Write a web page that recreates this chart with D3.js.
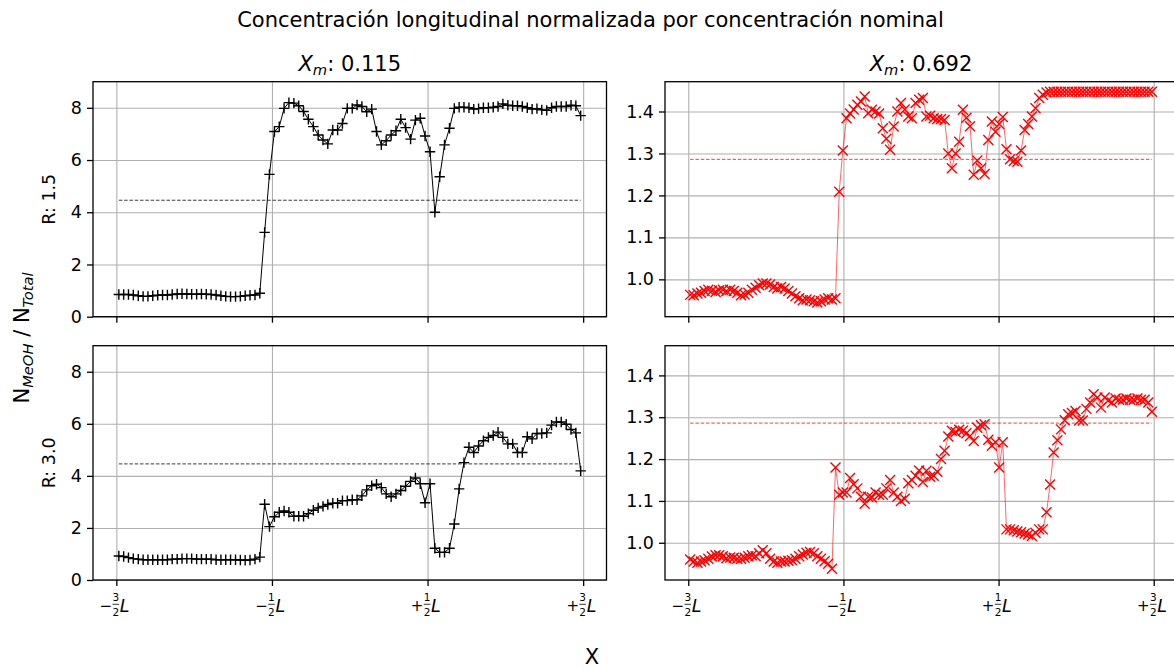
<!DOCTYPE html>
<html>
<head>
<meta charset="utf-8">
<title>Concentración longitudinal normalizada</title>
<script src="https://d3js.org/d3.v7.min.js"></script>
<style>
  body { margin: 0; background: #fff; }
  svg { font-family: "DejaVu Sans", sans-serif; }
  .grid line { stroke: #b0b0b0; stroke-width: 1.1; }
  .grid path { display: none; }
  .axis path { display: none; }
  .axis line { stroke: #000; stroke-width: 1.3; }
  .axis text { font-family: "DejaVu Sans", sans-serif; font-size: 17.5px; fill: #000; }
  .frac text { font-family: "DejaVu Sans", sans-serif; fill: #000; }
</style>
</head>
<body>
<svg width="1174" height="668"></svg>
<script>
// cell centres along X, in units of L
const xLeft = [-1.484, -1.453, -1.422, -1.391, -1.359, -1.328, -1.297, -1.266, -1.234, -1.203,
  -1.172, -1.141, -1.109, -1.078, -1.047, -1.016, -0.984, -0.953, -0.922, -0.891,
  -0.859, -0.828, -0.797, -0.766, -0.734, -0.703, -0.672, -0.641, -0.609, -0.578,
  -0.547, -0.516, -0.484, -0.453, -0.422, -0.391, -0.359, -0.328, -0.297, -0.266,
  -0.234, -0.203, -0.172, -0.141, -0.109, -0.078, -0.047, -0.016, 0.016, 0.047,
  0.078, 0.109, 0.141, 0.172, 0.203, 0.234, 0.266, 0.297, 0.328, 0.359,
  0.391, 0.422, 0.453, 0.484, 0.516, 0.547, 0.578, 0.609, 0.641, 0.672,
  0.703, 0.734, 0.766, 0.797, 0.828, 0.859, 0.891, 0.922, 0.953, 0.984,
  1.016, 1.047, 1.078, 1.109, 1.141, 1.172, 1.203, 1.234, 1.266, 1.297,
  1.328, 1.359, 1.391, 1.422, 1.453, 1.484];

const xRight = [-1.488, -1.465, -1.441, -1.418, -1.395, -1.371, -1.348, -1.324, -1.301, -1.277,
  -1.254, -1.230, -1.207, -1.184, -1.160, -1.137, -1.113, -1.090, -1.066, -1.043,
  -1.020, -0.996, -0.973, -0.949, -0.926, -0.902, -0.879, -0.855, -0.832, -0.809,
  -0.785, -0.762, -0.738, -0.715, -0.691, -0.668, -0.645, -0.621, -0.598, -0.574,
  -0.551, -0.527, -0.504, -0.480, -0.457, -0.434, -0.410, -0.387, -0.363, -0.340,
  -0.316, -0.293, -0.270, -0.246, -0.223, -0.199, -0.176, -0.152, -0.129, -0.105,
  -0.082, -0.059, -0.035, -0.012, 0.012, 0.035, 0.059, 0.082, 0.105, 0.129,
  0.152, 0.176, 0.199, 0.223, 0.246, 0.270, 0.293, 0.316, 0.340, 0.363,
  0.387, 0.410, 0.434, 0.457, 0.480, 0.504, 0.527, 0.551, 0.574, 0.598,
  0.621, 0.645, 0.668, 0.691, 0.715, 0.738, 0.762, 0.785, 0.809, 0.832,
  0.855, 0.879, 0.902, 0.926, 0.949, 0.973, 0.996, 1.020, 1.043, 1.066,
  1.090, 1.113, 1.137, 1.160, 1.184, 1.207, 1.230, 1.254, 1.277, 1.301,
  1.324, 1.348, 1.371, 1.395, 1.418, 1.441, 1.465, 1.488];

// X_m 0.115, R 1.5
const leftR15 = [0.85, 0.85, 0.85, 0.83, 0.8, 0.78, 0.78, 0.8, 0.82, 0.83,
  0.83, 0.85, 0.87, 0.88, 0.87, 0.86, 0.86, 0.87, 0.86, 0.85,
  0.83, 0.8, 0.78, 0.77, 0.77, 0.78, 0.8, 0.82, 0.83, 0.9,
  3.23, 5.45, 7.09, 7.28, 7.98, 8.2, 8.18, 8.08, 7.86, 7.56,
  7.28, 6.96, 6.77, 6.62, 7.15, 7.15, 7.4, 7.98, 7.98, 8.11,
  8.05, 7.85, 7.95, 7.09, 6.58, 6.74, 6.96, 7.12, 7.56, 7.24,
  6.8, 7.53, 7.6, 6.92, 6.32, 4.0, 5.36, 6.58, 7.22, 7.98,
  8.02, 8.02, 8.0, 7.95, 7.97, 8.0, 8.0, 8.02, 8.05, 8.15,
  8.1, 8.08, 8.08, 8.05, 8.0, 7.95, 7.97, 7.92, 7.9, 8.0,
  8.05, 8.05, 8.05, 8.1, 8.08, 7.7];

// X_m 0.115, R 3.0
const leftR30 = [0.92, 0.9, 0.86, 0.82, 0.8, 0.78, 0.78, 0.78, 0.78, 0.78,
  0.78, 0.8, 0.8, 0.82, 0.82, 0.82, 0.8, 0.8, 0.8, 0.8,
  0.78, 0.78, 0.78, 0.78, 0.78, 0.77, 0.76, 0.77, 0.8, 0.88,
  2.91, 2.05, 2.43, 2.6, 2.65, 2.6, 2.45, 2.45, 2.45, 2.55,
  2.68, 2.77, 2.83, 2.9, 2.95, 2.95, 3.05, 3.05, 3.08, 3.08,
  3.23, 3.46, 3.62, 3.68, 3.55, 3.31, 3.2, 3.31, 3.44, 3.6,
  3.79, 3.92, 3.7, 2.97, 3.7, 1.22, 1.06, 1.06, 1.22, 2.15,
  3.5, 4.51, 5.1, 4.9, 5.15, 5.35, 5.48, 5.55, 5.68, 5.48,
  5.23, 5.23, 4.9, 4.9, 5.5, 5.42, 5.63, 5.63, 5.65, 5.95,
  6.07, 6.07, 5.98, 5.78, 5.65, 4.19];

// X_m 0.692, R 1.5
const rightR15 = [0.963, 0.962, 0.966, 0.968, 0.972, 0.975, 0.973, 0.97, 0.974, 0.975,
  0.972, 0.975, 0.972, 0.968, 0.962, 0.964, 0.968, 0.975, 0.98, 0.986,
  0.99, 0.99, 0.988, 0.982, 0.978, 0.982, 0.978, 0.972, 0.966, 0.96,
  0.955, 0.95, 0.952, 0.95, 0.948, 0.945, 0.948, 0.952, 0.955, 0.952,
  0.955, 1.209, 1.307, 1.384, 1.395, 1.405, 1.416, 1.424, 1.436, 1.396,
  1.404, 1.4, 1.395, 1.36, 1.335, 1.309, 1.364, 1.4, 1.42, 1.405,
  1.388, 1.384, 1.42, 1.428, 1.432, 1.388, 1.39, 1.384, 1.382, 1.382,
  1.38, 1.30, 1.265, 1.3, 1.328, 1.404, 1.385, 1.365, 1.249, 1.283,
  1.265, 1.251, 1.332, 1.376, 1.352, 1.37, 1.387, 1.31, 1.286, 1.282,
  1.28, 1.307, 1.356, 1.37, 1.388, 1.408, 1.432, 1.44, 1.445, 1.447,
  1.447, 1.447, 1.447, 1.447, 1.447, 1.447, 1.447, 1.447, 1.447, 1.447,
  1.447, 1.447, 1.447, 1.447, 1.447, 1.447, 1.447, 1.447, 1.447, 1.447,
  1.447, 1.447, 1.447, 1.447, 1.447, 1.447, 1.447, 1.447];

// X_m 0.692, R 3.0
const rightR30 = [0.96, 0.955, 0.952, 0.955, 0.958, 0.962, 0.967, 0.97, 0.97, 0.968,
  0.963, 0.965, 0.964, 0.962, 0.962, 0.964, 0.968, 0.97, 0.968, 0.975,
  0.982, 0.975, 0.962, 0.955, 0.952, 0.955, 0.955, 0.957, 0.958, 0.962,
  0.968, 0.972, 0.976, 0.978, 0.975, 0.968, 0.962, 0.956, 0.95, 0.938,
  1.18, 1.115, 1.12, 1.12, 1.155, 1.14, 1.13, 1.11, 1.093, 1.11,
  1.108, 1.12, 1.115, 1.115, 1.13, 1.15, 1.12, 1.11, 1.1, 1.105,
  1.142, 1.15, 1.16, 1.173, 1.145, 1.172, 1.158, 1.16, 1.17, 1.2,
  1.22, 1.254, 1.268, 1.265, 1.27, 1.268, 1.262, 1.255, 1.243, 1.275,
  1.281, 1.283, 1.246, 1.232, 1.24, 1.18, 1.24, 1.032, 1.032, 1.03,
  1.027, 1.025, 1.022, 1.02, 1.016, 1.024, 1.032, 1.032, 1.073, 1.139,
  1.216, 1.245, 1.271, 1.293, 1.307, 1.31, 1.315, 1.292, 1.292, 1.32,
  1.335, 1.355, 1.347, 1.323, 1.347, 1.34, 1.335, 1.345, 1.342, 1.342,
  1.345, 1.342, 1.342, 1.345, 1.342, 1.342, 1.335, 1.313];

const nominal = [4.46, 1.286];           // dashed reference per column
const mixValues = ["0.115", "0.692"];    // column titles
const rowLabels = ["R: 1.5", "R: 3.0"];
const xTicks = [-1.5, -0.5, 0.5, 1.5];
const xTickLabels = [["−", "3"], ["−", "1"], ["+", "1"], ["+", "3"]];
const yTicksLeft = [0, 2, 4, 6, 8];
const yTicksRight = [1.0, 1.1, 1.2, 1.3, 1.4];

const svg = d3.select("svg");
svg.append("rect").attr("width", 1174).attr("height", 668).attr("fill", "#fff");

const cols = [
  { x0: 93, x1: 606.5, xs: xLeft, yDomain: [0, 9], yTicks: yTicksLeft, fmt: d3.format("d"),
    color: "#000", lineOpacity: 1, marker: "M-5.2,0H5.2M0,-5.2V5.2" },
  { x0: 665, x1: 1177, xs: xRight, yDomain: [0.911, 1.471], yTicks: yTicksRight, fmt: d3.format(".1f"),
    color: "#ff0000", lineOpacity: 0.6, marker: "M-5,-5L5,5M-5,5L5,-5" }
];
const rows = [{ y0: 81.7, y1: 316.7 }, { y0: 345.7, y1: 580 }];
const series = [[leftR15, rightR15], [leftR30, rightR30]];

rows.forEach((row, ri) => {
  cols.forEach((col, ci) => {
    const x = d3.scaleLinear().domain([-1.65, 1.65]).range([col.x0, col.x1]);
    const y = d3.scaleLinear().domain(col.yDomain).range([row.y1, row.y0]);
    const vals = series[ri][ci];
    const g = svg.append("g");

    // grid
    g.append("g").attr("class", "grid")
      .attr("transform", `translate(0,${row.y1})`)
      .call(d3.axisBottom(x).tickValues(xTicks).tickSize(-(row.y1 - row.y0)).tickFormat(""));
    g.append("g").attr("class", "grid")
      .attr("transform", `translate(${col.x0},0)`)
      .call(d3.axisLeft(y).tickValues(col.yTicks).tickSize(-(col.x1 - col.x0)).tickFormat(""));

    // nominal concentration
    g.append("line")
      .attr("x1", x(col.xs[0])).attr("x2", x(col.xs[col.xs.length - 1]))
      .attr("y1", y(nominal[ci])).attr("y2", y(nominal[ci]))
      .attr("stroke", col.color).attr("stroke-width", 0.9)
      .attr("stroke-dasharray", "3.5,1.8").attr("opacity", 0.85);

    // profile
    const line = d3.line().x((d, i) => x(col.xs[i])).y(d => y(d));
    g.append("path").datum(vals)
      .attr("d", line).attr("fill", "none")
      .attr("stroke", col.color).attr("stroke-width", 1)
      .attr("stroke-opacity", col.lineOpacity);

    g.append("g").selectAll("path").data(vals).join("path")
      .attr("transform", (d, i) => `translate(${x(col.xs[i])},${y(d)})`)
      .attr("d", col.marker).attr("fill", "none")
      .attr("stroke", col.color).attr("stroke-width", 1.4);

    // spines
    g.append("rect")
      .attr("x", col.x0).attr("y", row.y0)
      .attr("width", col.x1 - col.x0).attr("height", row.y1 - row.y0)
      .attr("fill", "none").attr("stroke", "#000").attr("stroke-width", 1.3);

    // axes
    g.append("g").attr("class", "axis")
      .attr("transform", `translate(${col.x0},0)`)
      .call(d3.axisLeft(y).tickValues(col.yTicks).tickSize(6).tickPadding(5).tickFormat(col.fmt));
    g.append("g").attr("class", "axis")
      .attr("transform", `translate(0,${row.y1})`)
      .call(d3.axisBottom(x).tickValues(xTicks).tickSize(6).tickFormat(""));

    // fraction tick labels on the bottom row
    if (ri === 1) {
      const fl = g.append("g").attr("class", "frac")
        .attr("transform", `translate(0,${row.y1})`);
      xTicks.forEach((t, ti) => {
        const [sign, num] = xTickLabels[ti];
        const lg = fl.append("g").attr("transform", `translate(${x(t)},0)`);
        lg.append("text").attr("x", -10.5).attr("y", 31).attr("text-anchor", "middle")
          .attr("font-size", 15).text(sign);
        lg.append("text").attr("x", -0.5).attr("y", 21).attr("text-anchor", "middle")
          .attr("font-size", 10.5).text(num);
        lg.append("line").attr("x1", -3.8).attr("x2", 2.8).attr("y1", 24.3).attr("y2", 24.3)
          .attr("stroke", "#000").attr("stroke-width", 0.8);
        lg.append("text").attr("x", -0.5).attr("y", 35.5).attr("text-anchor", "middle")
          .attr("font-size", 10.5).text("2");
        lg.append("text").attr("x", 3.5).attr("y", 32).attr("font-style", "italic")
          .attr("font-size", 17.5).text("L");
      });
    }

    // column title
    if (ri === 0) {
      const tt = svg.append("text")
        .attr("x", (col.x0 + col.x1) / 2).attr("y", 71.3)
        .attr("text-anchor", "middle").attr("font-size", 21);
      tt.append("tspan").attr("font-style", "italic").text("X");
      tt.append("tspan").attr("font-style", "italic").attr("font-size", 14.7).attr("dy", 4).text("m");
      tt.append("tspan").attr("dy", -4).text(": " + mixValues[ci]);
    }

    // row label
    if (ci === 0) {
      svg.append("text")
        .attr("transform", `translate(55,${(row.y0 + row.y1) / 2}) rotate(-90)`)
        .attr("text-anchor", "middle").attr("font-size", 17.5)
        .text(rowLabels[ri]);
    }
  });
});

// figure titles
svg.append("text")
  .attr("x", 590.5).attr("y", 27.3).attr("text-anchor", "middle").attr("font-size", 21)
  .text("Concentración longitudinal normalizada por concentración nominal");

svg.append("text")
  .attr("x", 592).attr("y", 664).attr("text-anchor", "middle").attr("font-size", 21)
  .text("X");

const yl = svg.append("text")
  .attr("transform", "translate(28.5,338) rotate(-90)")
  .attr("text-anchor", "middle").attr("font-size", 21);
yl.append("tspan").text("N");
yl.append("tspan").attr("font-style", "italic").attr("font-size", 14.7).attr("dy", 4).text("MeOH");
yl.append("tspan").attr("dy", -4).text(" / N");
yl.append("tspan").attr("font-style", "italic").attr("font-size", 14.7).attr("dy", 4).text("Total");
</script>
</body>
</html>
